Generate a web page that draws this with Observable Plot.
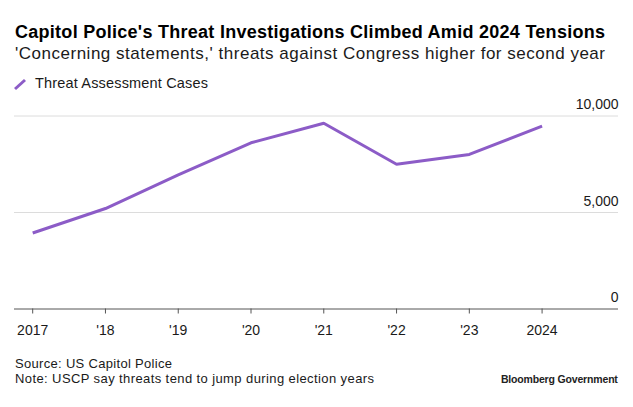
<!DOCTYPE html>
<html>
<head>
<meta charset="utf-8">
<script src="https://cdn.jsdelivr.net/npm/d3@7"></script>
<script src="https://cdn.jsdelivr.net/npm/@observablehq/plot@0.6"></script>
<style>
  html, body { margin: 0; padding: 0; background: #fff; }
  body { width: 633px; height: 407px; position: relative; overflow: hidden;
         font-family: "Liberation Sans", Arial, Helvetica, sans-serif; }
  .t { position: absolute; white-space: nowrap; line-height: 1; }
  #title { left: 15px; top: 22.5px; font-size: 18px; font-weight: bold; color: #000; }
  #subtitle { left: 15px; top: 44.6px; font-size: 17px; color: #1a1a1a; }
  #legend { left: 35px; top: 76px; font-size: 14.5px; color: #1a1a1a; }
  #legicon { position: absolute; left: 13px; top: 78px; }
  #source { left: 15px; top: 357px; font-size: 13px; color: #1a1a1a; }
  #note { left: 15px; top: 371.5px; font-size: 13px; color: #1a1a1a; }
  #brand { right: 15.3px; top: 373.8px; font-size: 10.5px; font-weight: bold; color: #222; }
  #chart { position: absolute; left: 0; top: 90px; }
</style>
</head>
<body>
<div class="t" id="title" data-w="590">Capitol Police's Threat Investigations Climbed Amid 2024 Tensions</div>
<div class="t" id="subtitle" data-w="590">'Concerning statements,' threats against Congress higher for second year</div>
<svg id="legicon" width="14" height="13"><line x1="2" y1="11" x2="12" y2="2" stroke="#8c5cc7" stroke-width="3"/></svg>
<div class="t" id="legend" data-w="173">Threat Assessment Cases</div>
<div id="chart"></div>
<div class="t" id="source" data-w="157">Source: US Capitol Police</div>
<div class="t" id="note" data-w="359">Note: USCP say threats tend to jump during election years</div>
<div class="t" id="brand" data-w="117">Bloomberg Government</div>
<script>
const years = [2017, 2018, 2019, 2020, 2021, 2022, 2023, 2024];
const cases = [3939, 5206, 6955, 8613, 9625, 7501, 8008, 9474];
const xTickLabels = ["2017", "'18", "'19", "'20", "'21", "'22", "'23", "2024"];
const yTicks = [0, 5000, 10000];
const lineColor = "#8c5cc7";

const data = years.map((y, i) => ({year: y, value: cases[i]}));

const plot = Plot.plot({
  width: 633,
  height: 255,
  marginLeft: 14,
  marginRight: 15,
  marginTop: 25.5,
  marginBottom: 36.5,
  style: {fontFamily: '"Liberation Sans", Arial, Helvetica, sans-serif', fontSize: "13px", color: "#1a1a1a", background: "transparent"},
  x: {domain: [2016.75, 2025.05]},
  y: {domain: [0, 10000]},
  marks: [
    Plot.gridY(yTicks.filter(d => d > 0), {stroke: "#dcdcdc", strokeOpacity: 1, strokeWidth: 1}),
    Plot.ruleY([0], {stroke: "#555", strokeWidth: 1}),
    Plot.axisX(years, {
      tickSize: 5, tickPadding: 11, stroke: "#555", fontSize: 14,
      tickFormat: d => xTickLabels[years.indexOf(d)], label: null
    }),
    Plot.axisY(yTicks, {
      anchor: "right", tickSize: 0, tickPadding: 0, textAnchor: "end",
      lineAnchor: "bottom", dy: -7, fontSize: 14,
      tickFormat: d3.format(","), label: null
    }),
    Plot.line(data, {x: "year", y: "value", stroke: lineColor, strokeWidth: 3, strokeLinejoin: "miter", strokeLinecap: "butt"})
  ]
});
document.getElementById("chart").appendChild(plot);

// fit header/footer text widths to the reference by letter-spacing
document.querySelectorAll(".t[data-w]").forEach(el => {
  const target = +el.dataset.w;
  const w = el.getBoundingClientRect().width;
  const n = el.textContent.length;
  if (n > 1) el.style.letterSpacing = ((target - w) / (n - 1)) + "px";
});
</script>
</body>
</html>
